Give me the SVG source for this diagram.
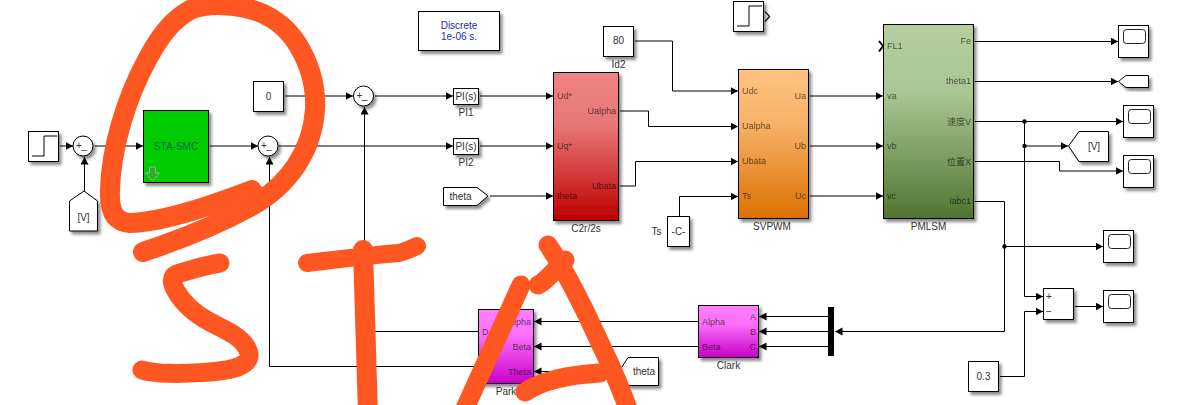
<svg xmlns="http://www.w3.org/2000/svg" width="1191" height="405" viewBox="0 0 1191 405">
<style>
text{font-family:"Liberation Sans","Noto Sans CJK SC",sans-serif;font-size:10px;fill:#333;text-anchor:middle}
.b{fill:#fff;stroke:#000;stroke-width:1;filter:url(#sh)}
.i{fill:none;stroke:#000;stroke-width:1}
.s{fill:none;stroke:#222;stroke-width:1}
.c path,.c polyline,.c line{fill:none;stroke:#000;stroke-width:1}
.a{marker-end:url(#ah)}
.l{text-anchor:start;fill:#000;fill-opacity:.62;font-size:9px}
.r{text-anchor:end;fill:#000;fill-opacity:.62;font-size:9px}
.d{fill:#000}
.o{fill:none;stroke:#FE5722;stroke-width:20;stroke-linecap:round;stroke-linejoin:round}
</style>
<defs>
<filter id="sh" x="-20%" y="-20%" width="150%" height="150%"><feDropShadow dx="2.5" dy="3" stdDeviation="1.8" flood-color="#000" flood-opacity=".45"/></filter>
<marker id="ah" markerUnits="userSpaceOnUse" markerWidth="9" markerHeight="9" refX="7.500" refY="4" orient="auto"><path d="M0,0L7.500,4L0,8z" fill="#000"/></marker>
<linearGradient id="red" x1="0" y1="0" x2="0" y2="1"><stop offset="0" stop-color="#F08282"/><stop offset=".35" stop-color="#E87878"/><stop offset="1" stop-color="#BE0000"/></linearGradient>
<linearGradient id="org" x1="0" y1="0" x2="0" y2="1"><stop offset="0" stop-color="#FFC27E"/><stop offset=".35" stop-color="#F7B36A"/><stop offset="1" stop-color="#DC7000"/></linearGradient>
<linearGradient id="grn" x1="0" y1="0" x2="0" y2="1"><stop offset="0" stop-color="#B4CE9E"/><stop offset=".35" stop-color="#AAC694"/><stop offset="1" stop-color="#507530"/></linearGradient>
<linearGradient id="mag" x1="0" y1="0" x2="0" y2="1"><stop offset="0" stop-color="#FF80FF"/><stop offset=".35" stop-color="#FB70FB"/><stop offset="1" stop-color="#C800C8"/></linearGradient>
</defs>

<g id="connectors" class="c">
<path class="a" d="M60,146H73"/>
<path class="a" d="M84.500,191V157"/>
<path class="a" d="M95,146H143"/>
<path class="a" d="M210,146H258"/>
<path class="a" d="M285,96H353"/>
<path class="a" d="M279,146H453"/>
<path class="a" d="M375,96H453"/>
<path class="a" d="M480,96H553"/>
<path class="a" d="M480,146H553"/>
<path class="a" d="M490,196H553"/>
<path class="a" d="M620,111H648.500V126.500H738"/>
<path class="a" d="M620,186H635.500V161.500H738"/>
<path class="a" d="M635,41H672.500V91H738"/>
<path class="a" d="M679.500,216V196.500H738"/>
<path class="a" d="M810,96H883"/>
<path class="a" d="M810,146H883"/>
<path class="a" d="M810,196H883"/>
<path d="M879,41L883,46L879,51.500" style="stroke-width:2"/>
<path class="a" d="M975,41.500H1118"/>
<path class="a" d="M975,81.500H1118"/>
<path class="a" d="M975,121.500H1123"/>
<path class="a" d="M1024.500,146H1068"/>
<path class="a" d="M975,161.500H1059.500V171H1123"/>
<path class="a" d="M1024.500,121.500V296.500H1043"/>
<path class="a" d="M975,201.500H1004.500V331.500H835"/>
<path class="a" d="M1004.500,246.500H1103"/>
<path class="a" d="M1000,376.500H1024.500V311.500H1043"/>
<path class="a" d="M1075,306.500H1103"/>
<path class="a" d="M828,316.500H759"/>
<path class="a" d="M828,331.500H759"/>
<path class="a" d="M828,346.500H759"/>
<path class="a" d="M698,321.500H534"/>
<path class="a" d="M698,346.500H534"/>
<path class="a" d="M618,371.500H534"/>
<path class="a" d="M478,331.500H364.500V107"/>
<path class="a" d="M478,366.500H269.500V157"/>
<circle class="d" cx="1024.500" cy="121.500" r="2.200"/>
<circle class="d" cx="1024.500" cy="146" r="2.200"/>
<circle class="d" cx="1004.500" cy="246.500" r="2.200"/>
</g>

<g id="step1"><rect class="b" x="28.500" y="131.500" width="30" height="30"/><path class="i" d="M32,156H44V136H57"/></g>
<g id="sum1"><circle class="b" cx="83" cy="146" r="10"/><text x="79" y="149">+</text><text x="84" y="149">_</text></g>
<g id="from-v"><path class="b" d="M69.500,231V201L84,191L97.500,201V231z"/><text x="83.500" y="221">[V]</text></g>
<g id="sta-smc"><rect class="b" x="143.500" y="110.500" width="65" height="72" style="fill:#00CC00"/><text x="176" y="150" style="fill:#064">STA-SMC</text><path d="M149.500,167h6v6h4l-7,8l-7,-8h4z" fill="#33AA33" stroke="#6fcf6f"/></g>
<g id="const0"><rect class="b" x="253.500" y="81.500" width="30" height="30"/><text x="268.500" y="100">0</text></g>
<g id="sum2"><circle class="b" cx="268" cy="146" r="10"/><text x="264" y="149">+</text><text x="269" y="149">_</text></g>
<g id="sum3"><circle class="b" cx="363.500" cy="96" r="10"/><text x="359.500" y="99">+</text><text x="364.500" y="99">_</text></g>
<g id="powergui"><rect class="b" x="418.500" y="11.500" width="81" height="39"/><text x="459" y="29" style="fill:#2A2AA0">Discrete</text><text x="459" y="40" style="fill:#2A2AA0">1e-06 s.</text></g>
<g id="pi1"><rect class="b" x="453.500" y="88.500" width="25" height="16"/><text x="466" y="100">PI(s)</text><text x="466" y="116">PI1</text></g>
<g id="pi2"><rect class="b" x="453.500" y="138.500" width="25" height="16"/><text x="466" y="150">PI(s)</text><text x="466" y="166">PI2</text></g>
<g id="from-theta"><path class="b" d="M443.500,187.500H477L488,196L477,205.500H443.500z"/><text x="460.500" y="200">theta</text></g>
<g id="c2r2s"><rect class="b" x="553.500" y="72.500" width="65" height="148" style="fill:url(#red)"/><text class="l" x="557" y="99">Ud*</text><text class="l" x="557" y="149">Uq*</text><text class="l" x="557" y="199">theta</text><text class="r" x="616" y="114">Ualpha</text><text class="r" x="616" y="189">Ubata</text><text x="586" y="232">C2r/2s</text></g>
<g id="id2"><rect class="b" x="603.500" y="26.500" width="30" height="30"/><text x="618.500" y="44">80</text><text x="618.500" y="68">Id2</text></g>
<g id="step2"><rect class="b" x="733.500" y="1.500" width="30" height="30"/><path class="i" d="M737,26H749V6H762"/><path d="M765,11.500L769.500,16.500L765,21.500" fill="none" stroke="#222" stroke-width="1.500"/></g>
<g id="svpwm"><rect class="b" x="738.500" y="69.500" width="70" height="149" style="fill:url(#org)"/><text class="l" x="742" y="94">Udc</text><text class="l" x="742" y="129">Ualpha</text><text class="l" x="742" y="164">Ubata</text><text class="l" x="742" y="199">Ts</text><text class="r" x="806" y="99">Ua</text><text class="r" x="806" y="149">Ub</text><text class="r" x="806" y="199">Uc</text><text x="772" y="230">SVPWM</text></g>
<g id="ts"><rect class="b" x="667.500" y="216.500" width="22" height="30"/><text x="678.500" y="235">-C-</text><text x="656.500" y="235">Ts</text></g>
<g id="pmlsm"><rect class="b" x="883.500" y="24.500" width="90" height="194" style="fill:url(#grn)"/><text class="l" x="887" y="49">FL1</text><text class="l" x="887" y="99">va</text><text class="l" x="887" y="149">vb</text><text class="l" x="887" y="199">vc</text><text class="r" x="971" y="44">Fe</text><text class="r" x="971" y="84">theta1</text><text class="r" x="971" y="125">速度V</text><text class="r" x="971" y="165">位置X</text><text class="r" x="971" y="204">iabc1</text><text x="928.500" y="230">PMLSM</text></g>
<g id="scope1"><rect class="b" x="1118.500" y="25.500" width="30" height="32"/><rect class="s" x="1123.500" y="29.500" width="22" height="14" rx="3"/></g>
<g id="goto-theta1"><path class="b" d="M1118.500,81.500L1126,75.500H1148.500V87.500H1126z"/></g>
<g id="scope2"><rect class="b" x="1123.500" y="105.500" width="30" height="32"/><rect class="s" x="1128.500" y="109.500" width="22" height="14" rx="3"/></g>
<g id="goto-v"><path class="b" d="M1068.500,146L1079,131.500H1108.500V161.500H1079z"/><text x="1094" y="150">[V]</text></g>
<g id="scope3"><rect class="b" x="1123.500" y="155.500" width="30" height="32"/><rect class="s" x="1128.500" y="159.500" width="22" height="14" rx="3"/></g>
<g id="scope4"><rect class="b" x="1103.500" y="230.500" width="30" height="32"/><rect class="s" x="1108.500" y="234.500" width="22" height="14" rx="3"/></g>
<g id="sum4"><rect class="b" x="1043.500" y="288.500" width="30" height="31"/><text x="1049" y="300">+</text><text x="1049" y="315">−</text></g>
<g id="scope5"><rect class="b" x="1103.500" y="290.500" width="30" height="32"/><rect class="s" x="1108.500" y="294.500" width="22" height="14" rx="3"/></g>
<g id="const03"><rect class="b" x="968.500" y="361.500" width="30" height="30"/><text x="983.500" y="379.500">0.3</text></g>
<g id="mux"><rect x="828" y="307" width="6" height="49" fill="#000"/></g>
<g id="clark"><rect class="b" x="698.500" y="305.500" width="60" height="52" style="fill:url(#mag)"/><text class="l" x="702" y="325">Alpha</text><text class="l" x="702" y="350">Beta</text><text class="r" x="756" y="320">A</text><text class="r" x="756" y="335">B</text><text class="r" x="756" y="350">C</text><text x="728.500" y="369">Clark</text></g>
<g id="park"><rect class="b" x="478.500" y="309.500" width="55" height="74" style="fill:url(#mag)"/><text class="l" x="482" y="335">D</text><text class="r" x="531" y="325">Alpha</text><text class="r" x="531" y="350">Beta</text><text class="r" x="531" y="375">Theta</text><text x="506" y="395">Park</text></g>
<g id="goto-theta"><path class="b" d="M619,371.500L628,357.500H658.500V385.500H628z"/><text x="644" y="375">theta</text></g>

<g id="annotation">
<path class="o" d="M252,190C215,204 165,222 130,223C115,222 109,212 110,190C111,150 125,100 148,58C160,36 172,20 190,10C205,4 225,4 245,8C265,12 285,24 298,45C312,68 316,90 315,110C312,150 290,185 250,207C215,226 185,238 143,252"/>
<path class="o" d="M220,263C205,265 190,270 177,274C170,277 172,284 176,291C184,305 195,314 210,322C225,330 238,335 245,345C252,355 250,362 238,367C222,373 180,374 160,373C152,372 148,372 142,370" style="stroke-width:19"/>
<path class="o" d="M307,263C340,259 375,255 398,253C405,252 410,249 417,246" style="stroke-width:18"/>
<path class="o" d="M363,250L368,415"/>
<path class="o" d="M521,285C505,320 485,365 462,415" style="stroke-width:19"/>
<path class="o" d="M538,285C545,282 555,270 565,260" style="stroke-width:19"/>
<path class="o" d="M548,245C565,270 585,310 600,343C612,368 622,390 630,415" style="stroke-width:19"/>
<path class="o" d="M525,392C540,382 565,375 600,373" style="stroke-width:19"/>
</g>
</svg>
